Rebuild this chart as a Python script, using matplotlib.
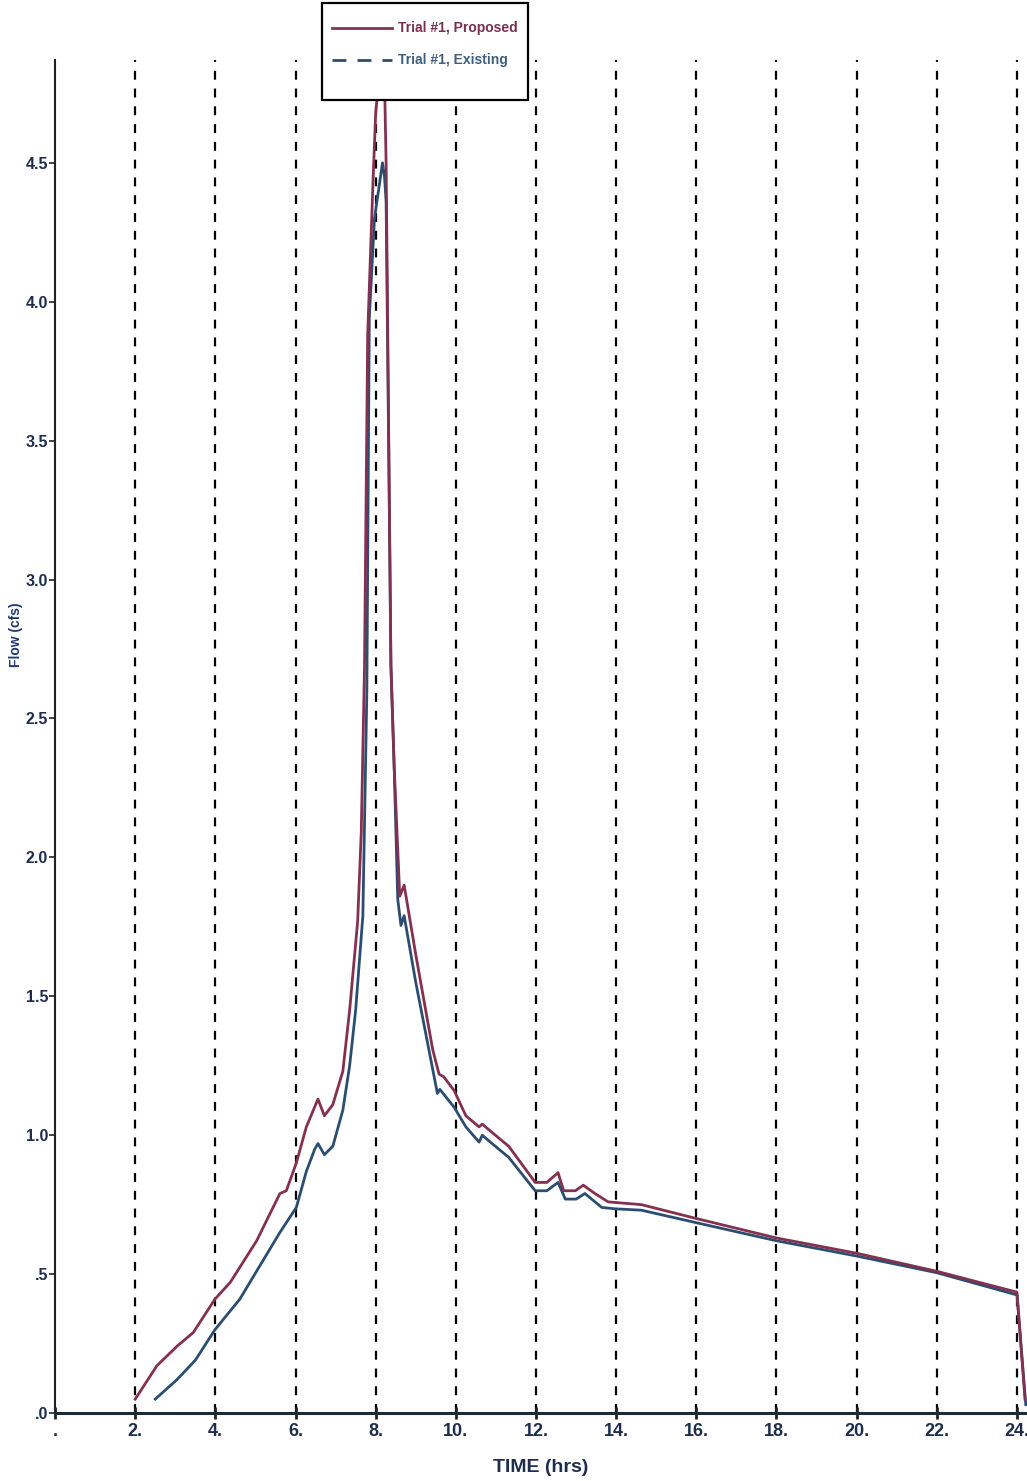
import matplotlib
matplotlib.use("Agg")
from matplotlib import pyplot as plt
from matplotlib.patches import Rectangle
from matplotlib.lines import Line2D

# hydrograph values (time in hrs, flow in cfs)
prop_t = [2.0, 2.54, 3.04, 3.45, 3.99, 4.37, 5.03, 5.61, 5.77, 6.02, 6.27, 6.56, 6.72, 6.93,
          7.18, 7.35, 7.55, 7.64, 7.72, 7.80, 7.93, 8.0, 8.12, 8.22, 8.26, 8.38, 8.46, 8.55,
          8.60, 8.71, 9.0, 9.42, 9.58, 9.70, 9.96, 10.25, 10.58, 10.66, 10.82, 11.32, 11.98,
          12.27, 12.55, 12.69, 12.98, 13.18, 13.47, 13.8, 14.63, 16.0, 18.0, 20.0, 22.0,
          24.0, 24.2]
prop_q = [0.05, 0.17, 0.24, 0.29, 0.41, 0.47, 0.62, 0.79, 0.80, 0.90, 1.03, 1.13, 1.07, 1.11,
          1.23, 1.45, 1.77, 2.09, 2.68, 3.88, 4.42, 4.68, 4.86, 4.8, 4.5, 2.69, 2.33, 2.03,
          1.86, 1.90, 1.65, 1.31, 1.22, 1.21, 1.16, 1.07, 1.03, 1.04, 1.02, 0.96, 0.83,
          0.83, 0.865, 0.80, 0.80, 0.82, 0.79, 0.76, 0.75, 0.70, 0.63, 0.575, 0.51,
          0.435, 0.05]

exist_t = [2.5, 3.04, 3.5, 3.99, 4.61, 5.11, 5.61, 6.02, 6.27, 6.48, 6.56, 6.72, 6.93, 7.18,
           7.35, 7.5, 7.68, 7.78, 7.84, 7.97, 8.17, 8.22, 8.26, 8.38, 8.46, 8.55, 8.63, 8.71,
           9.0, 9.54, 9.60, 9.96, 10.25, 10.58, 10.66, 10.82, 11.32, 11.98, 12.27, 12.55,
           12.73, 13.0, 13.22, 13.64, 13.97, 14.63, 16.0, 18.0, 20.0, 22.0, 24.0, 24.22]
exist_q = [0.05, 0.12, 0.19, 0.30, 0.41, 0.53, 0.65, 0.74, 0.87, 0.95, 0.97, 0.93, 0.96, 1.09,
           1.25, 1.45, 1.79, 2.6, 3.94, 4.30, 4.50, 4.45, 4.36, 2.69, 2.33, 1.85, 1.755, 1.79,
           1.55, 1.15, 1.165, 1.10, 1.03, 0.975, 1.0, 0.98, 0.92, 0.80, 0.80, 0.83,
           0.77, 0.77, 0.79, 0.74, 0.735, 0.73, 0.685, 0.62, 0.565, 0.505, 0.425, 0.03]

x_ticks = [0, 2, 4, 6, 8, 10, 12, 14, 16, 18, 20, 22, 24]
x_labels = [".", "2.", "4.", "6.", "8.", "10.", "12.", "14.", "16.", "18.", "20.", "22.", "24."]
y_ticks = [0, 0.5, 1.0, 1.5, 2.0, 2.5, 3.0, 3.5, 4.0, 4.5]
y_labels = [".0", ".5", "1.0", "1.5", "2.0", "2.5", "3.0", "3.5", "4.0", "4.5"]
legend_labels = ["Trial #1, Proposed", "Trial #1, Existing"]

label_font = ["Liberation Sans", "DejaVu Sans"]
navy = "#1f2d4d"
prop_color = "#84304f"
exist_color = "#2c4d72"

W, H = 1027, 1481
fig = plt.figure(figsize=(W / 100, H / 100), dpi=100)
ax = fig.add_axes([0.0536, 0.0459, 0.9464, 0.9136])

for xv in x_ticks[1:]:
    ax.axvline(xv, color="black", linestyle=(0, (4, 4)), linewidth=1.6, zorder=1)

ax.plot(prop_t, prop_q, color=prop_color, linewidth=2, zorder=3)
ax.plot(exist_t, exist_q, color=exist_color, linewidth=2, zorder=2)

ax.set_xlim(0.1, 24.25)
ax.set_ylim(0, 4.87)
ax.spines["top"].set_visible(False)
ax.spines["right"].set_visible(False)
ax.spines["left"].set_color("#222222")
ax.spines["left"].set_linewidth(1.5)
ax.spines["bottom"].set_color("#1e2a3a")
ax.spines["bottom"].set_linewidth(2.2)

ax.set_xticks(x_ticks)
ax.set_xticklabels(x_labels, family=label_font, fontweight="bold", fontsize=13, color=navy)
ax.set_yticks(y_ticks)
ax.set_yticklabels(y_labels, family=label_font, fontweight="bold", fontsize=11.5, color=navy)
ax.tick_params(axis="x", direction="inout", length=9, width=2, pad=3, color="#222222")
ax.tick_params(axis="y", direction="out", length=4, width=1.2, pad=1, color="#222222")

ax.set_xlabel("TIME (hrs)", family=label_font, fontweight="bold", fontsize=14, color=navy)
ax.xaxis.set_label_coords(0.5, -0.034)
ax.set_ylabel("Flow (cfs)", family=label_font, fontweight="bold", fontsize=10, color="#1f3a6e")
ax.yaxis.set_label_coords(-0.033, 0.575)

# legend box sits partly above the plot, as in the scan
fx = lambda px: px / W
fy = lambda py: 1 - py / H
box = Rectangle((fx(322), fy(100)), fx(528) - fx(322), fy(3) - fy(100), transform=fig.transFigure,
                facecolor="white", edgecolor="black", linewidth=1.6, zorder=10)
fig.add_artist(box)
styles = [("-", prop_color, "#7b2f4f", 28), ((0, (5, 4)), exist_color, "#3f5f7f", 60)]
for lab, (ls, lc, tc, py) in zip(legend_labels, styles):
    fig.add_artist(Line2D([fx(332), fx(392)], [fy(py), fy(py)], transform=fig.transFigure,
                          color=lc, linewidth=2, linestyle=ls, zorder=11))
    fig.text(fx(398), fy(py), lab, ha="left", va="center", family=label_font, fontweight="bold",
             fontsize=10, color=tc, zorder=11)

fig.savefig("out.png", dpi=100)
